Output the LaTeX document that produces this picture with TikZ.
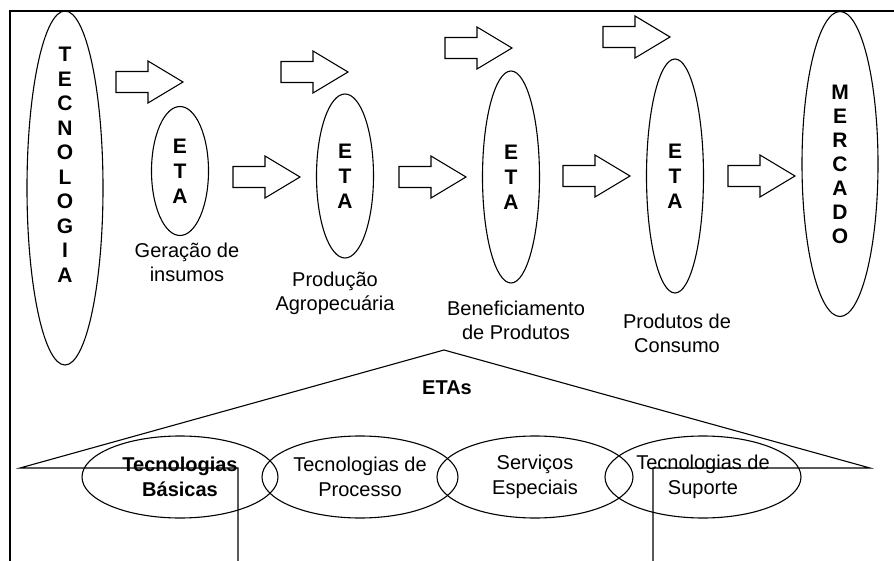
\documentclass[tikz,border=0pt]{standalone}
\usepackage{fontspec}
\setmainfont{Liberation Sans}
\usetikzlibrary{shapes.geometric}
\tikzset{
  ln/.style={line width=1.1pt},
  bigell/.style={ellipse, draw, ln, inner sep=0pt, minimum width=76pt},
  etaell/.style={ellipse, draw, ln, inner sep=0pt, minimum width=57pt,
                 align=center, font=\fontsize{21}{25}\selectfont\bfseries},
  caps/.style={align=center, inner sep=0pt,
               font=\fontsize{21}{24.5}\selectfont\bfseries},
  stage/.style={align=center, inner sep=0pt, font=\fontsize{20}{24}\selectfont},
  area/.style={ellipse, draw, ln, inner sep=0pt,
               minimum width=196pt, minimum height=82pt,
               align=center, font=\fontsize{20}{25}\selectfont},
  blkarr/.pic={\draw[ln] (0,-10.5) -- (32,-10.5) -- (32,-21) -- (67,0)
                 -- (32,21) -- (32,10.5) -- (0,10.5) -- cycle;},
}
\begin{document}
\begin{tikzpicture}[x=1pt, y=-1pt]
  \useasboundingbox (0,0) rectangle (894,561);
  \draw[line width=1.3pt] (10,561) -- (10,11) -- (894,11);

  % chain
  \node[bigell, minimum height=354pt] (tec) at (65,188) {};
  \node[caps] (tectxt) at (65,165) {T\\E\\C\\N\\O\\L\\O\\G\\I\\A};
  \node[etaell, minimum height=129pt] (eta1) at (180,171) {E\\T\\A};
  \node[etaell, minimum height=164pt] (eta2) at (345,176) {E\\T\\A};
  \node[etaell, minimum height=212pt] (eta3) at (511,177) {E\\T\\A};
  \node[etaell, minimum height=234pt] (eta4) at (675,176) {E\\T\\A};
  \node[bigell, minimum height=305pt, align=center,
        font=\fontsize{21}{24}\selectfont\bfseries] (merc) at (840,164)
    {M\\E\\R\\C\\A\\D\\O};

  \pic (a1) at (116,82) {blkarr};
  \pic (a2) at (233,177) {blkarr};
  \pic (a3) at (281,72) {blkarr};
  \pic (a4) at (399,177) {blkarr};
  \pic (a5) at (445,48) {blkarr};
  \pic (a6) at (563,176) {blkarr};
  \pic (a7) at (603,37) {blkarr};
  \pic (a8) at (728,176) {blkarr};

  \node[stage] (l1) at (187,262) {Geração de\\insumos};
  \node[stage] (l2) at (335,293) {Produção\\Agropecuária};
  \node[stage] (l3) at (516,320) {Beneficiamento\\de Produtos};
  \node[stage] (l4) at (677,333) {Produtos de\\Consumo};

  % ETAs
  \node[stage, font=\fontsize{20}{24}\selectfont\bfseries] (etas) at (447,388) {ETAs};
  \node[area, font=\fontsize{20}{25}\selectfont\bfseries] (basic) at (180,477)
    {Tecnologias\\Básicas};
  \node[area] (proc) at (360,477) {Tecnologias de\\Processo};
  \node[area] (serv) at (535,477) {Serviços\\Especiais};
  \node[area] (sup) at (703,477) {Tecnologias de\\Suporte};

  \coordinate (apex) at (444,350);
  \coordinate (lv) at (20,468);
  \coordinate (rv) at (870,468);
  \coordinate (lk) at (238,468);
  \coordinate (rk) at (653,468);
  \draw[ln] (238,561) -- (lk) -- (lv) -- (apex) -- (rv) -- (rk) -- (653,561);
\end{tikzpicture}
\end{document}
